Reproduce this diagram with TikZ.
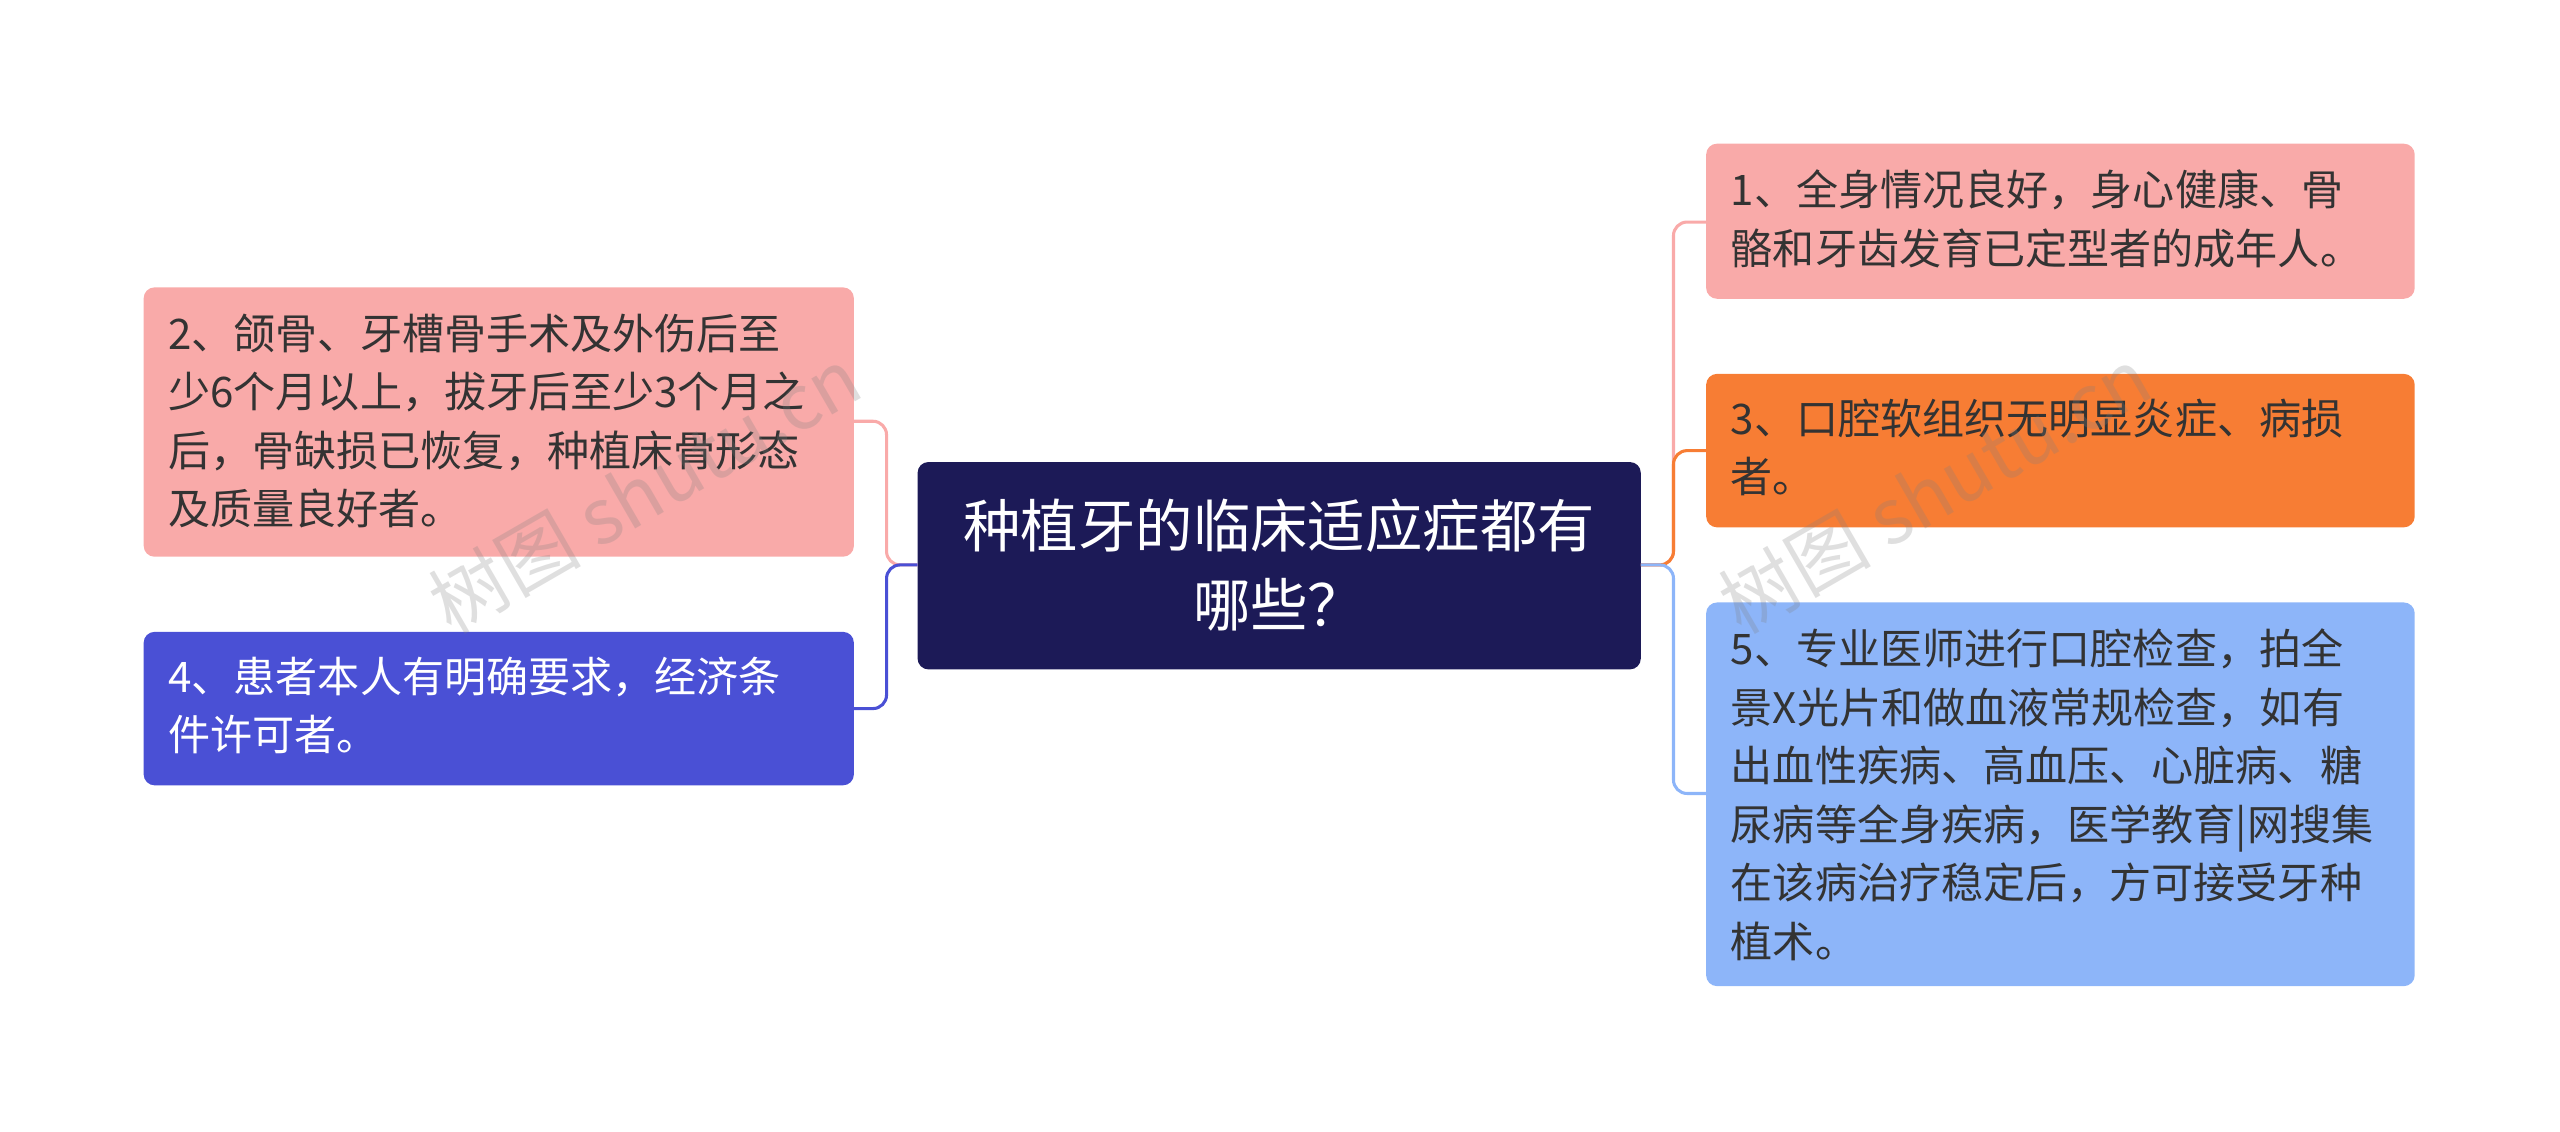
\documentclass[tikz,border=0pt]{standalone}
\usepackage{fontspec}
\setmainfont{Noto Sans CJK SC}
\definecolor{navy}{HTML}{1C1A57}
\definecolor{pinkf}{HTML}{F9AAA9}
\definecolor{bluef}{HTML}{4A50D5}
\definecolor{orangef}{HTML}{F77D34}
\definecolor{lbluef}{HTML}{8DB5F9}
\definecolor{txt}{HTML}{333333}
\begin{document}
\begin{tikzpicture}[x=0.03cm,y=-0.03cm,
 box/.style={rounded corners=0.2cm,inner sep=0pt},
 tx/.style={anchor=north west,align=left,font=\fontsize{22pt}{30.6pt}\selectfont,text=txt},
 conn/.style={line width=1.6pt,rounded corners=0.25cm}]
\useasboundingbox (0,0) rectangle (1568,693);
% boxes
\fill[navy,box] (562,283) rectangle (1005,410);
\node[align=center,text=white,font=\fontsize{30pt}{41pt}\selectfont] (c) at (783.5,346) {种植牙的临床适应症都有\\哪些？};
\coordinate (cl) at (562,346); \coordinate (cr) at (1005,346);
\fill[pinkf,box] (88,176) rectangle (523,341);
\node[tx] (l1) at (99,188) {2、颌骨、牙槽骨手术及外伤后至\\少6个月以上，拔牙后至少3个月之\\后，骨缺损已恢复，种植床骨形态\\及质量良好者。};
\fill[bluef,box] (88,387) rectangle (523,481);
\node[tx,text=white] (l2) at (99,398) {4、患者本人有明确要求，经济条\\件许可者。};
\fill[pinkf,box] (1045,88) rectangle (1479,183);
\node[tx] (r1) at (1056,100) {1、全身情况良好，身心健康、骨\\骼和牙齿发育已定型者的成年人。};
\fill[orangef,box] (1045,229) rectangle (1479,323);
\node[tx] (r2) at (1056,240) {3、口腔软组织无明显炎症、病损\\者。};
\fill[lbluef,box] (1045,369) rectangle (1479,604);
\node[tx] (r3) at (1056,381) {5、专业医师进行口腔检查，拍全\\景X光片和做血液常规检查，如有\\出血性疾病、高血压、心脏病、糖\\尿病等全身疾病，医学教育|网搜集\\在该病治疗稳定后，方可接受牙种\\植术。};
\coordinate (a1) at (523,258); \coordinate (a2) at (523,434);
\coordinate (b1) at (1045,136); \coordinate (b2) at (1045,276); \coordinate (b3) at (1045,486);
\draw[conn,pinkf] (cl) -- (543,346) |- (a1);
\draw[conn,bluef] (cl) -- (543,346) |- (a2);
\draw[conn,pinkf] (cr) -- (1025,346) |- (b1);
\draw[conn,orangef] (cr) -- (1025,346) |- (b2);
\draw[conn,lbluef] (cr) -- (1025,346) |- (b3);
% watermarks
\node[rotate=30,text=gray,opacity=0.25,font=\fontsize{40pt}{40pt}\selectfont] (w1) at (395,300) {树图 shutu.cn};
\node[rotate=30,text=gray,opacity=0.25,font=\fontsize{40pt}{40pt}\selectfont] (w2) at (1185,300) {树图 shutu.cn};
\end{tikzpicture}
\end{document}
